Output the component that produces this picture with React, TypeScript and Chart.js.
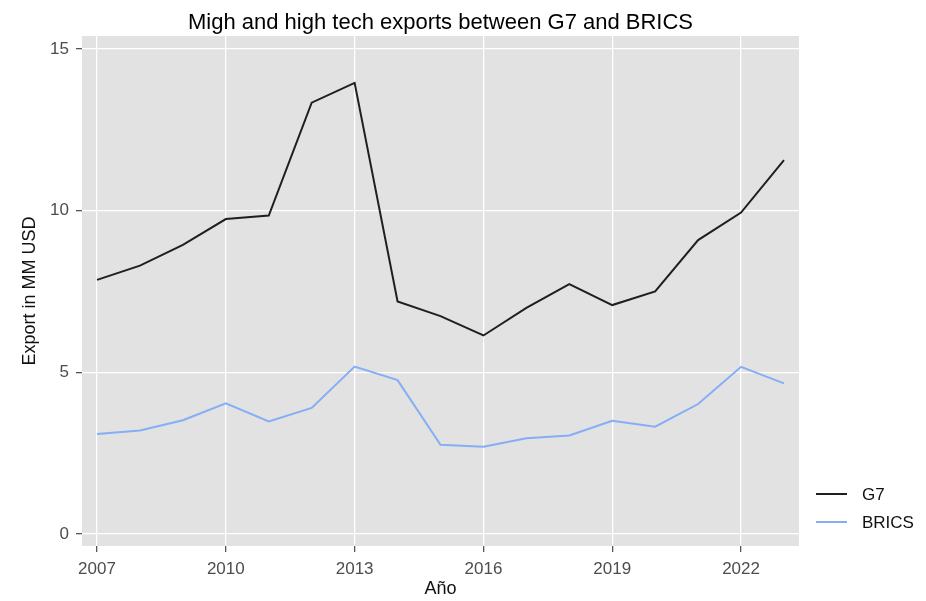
import React, { useEffect, useRef } from "react";
import { Chart, registerables } from "chart.js";

Chart.register(...registerables);

const years = [2007, 2008, 2009, 2010, 2011, 2012, 2013, 2014, 2015, 2016, 2017, 2018, 2019, 2020, 2021, 2022, 2023];
const g7Values = [7.86, 8.3, 8.94, 9.74, 9.85, 13.34, 13.95, 7.19, 6.74, 6.14, 6.99, 7.73, 7.08, 7.5, 9.09, 9.94, 11.56];
const bricsValues = [3.09, 3.2, 3.52, 4.04, 3.48, 3.9, 5.18, 4.76, 2.76, 2.7, 2.96, 3.05, 3.5, 3.32, 4.02, 5.17, 4.66];
const xTicks = [2007, 2010, 2013, 2016, 2019, 2022];
const yTicks = [0, 5, 10, 15];
const seriesLabels = ["G7", "BRICS"];
const titleText = "Migh and high tech exports between G7 and BRICS";
const xTitle = "Año";
const yTitle = "Export in MM USD";

const FONT = "'Liberation Sans', Arial, Helvetica, sans-serif";

export default function App() {
  const ref = useRef<HTMLCanvasElement | null>(null);
  useEffect(() => {
    if (!ref.current) return;
    const panelPlugin = {
      id: "panelBg",
      beforeDraw(chart: any) {
        const { ctx, chartArea } = chart;
        ctx.save();
        ctx.fillStyle = "#E2E2E2";
        ctx.fillRect(chartArea.left, chartArea.top, chartArea.right - chartArea.left, chartArea.bottom - chartArea.top);
        ctx.restore();
      },
      afterDraw(chart: any) {
        const { ctx, chartArea } = chart;
        ctx.save();
        ctx.fillStyle = "#000";
        ctx.font = `22px ${FONT}`;
        ctx.textAlign = "center";
        ctx.textBaseline = "alphabetic";
        ctx.fillText(titleText, (chartArea.left + chartArea.right) / 2, 28.5);
        // legend
        const legendY = [494, 522];
        chart.data.datasets.forEach((ds: any, i: number) => {
          ctx.strokeStyle = ds.borderColor;
          ctx.lineWidth = 2;
          ctx.beginPath();
          ctx.moveTo(816, legendY[i]);
          ctx.lineTo(847, legendY[i]);
          ctx.stroke();
          ctx.fillStyle = "#111";
          ctx.font = `17px ${FONT}`;
          ctx.textAlign = "left";
          ctx.textBaseline = "middle";
          ctx.fillText(ds.label, 862, legendY[i] + 1);
        });
        ctx.restore();
      },
    };
    const chart = new Chart(ref.current, {
      type: "line",
      data: {
        datasets: [
          {
            label: seriesLabels[0],
            data: years.map((y, i) => ({ x: y, y: g7Values[i] })),
            borderColor: "#1f1f1f",
            borderWidth: 2,
            pointRadius: 0,
            tension: 0,
            fill: false,
          },
          {
            label: seriesLabels[1],
            data: years.map((y, i) => ({ x: y, y: bricsValues[i] })),
            borderColor: "#84AEF6",
            borderWidth: 2,
            pointRadius: 0,
            tension: 0,
            fill: false,
          },
        ],
      },
      options: {
        animation: false,
        responsive: false,
        layout: { padding: { top: 36, right: 127, left: 0, bottom: 0 } },
        plugins: {
          legend: { display: false },
          title: { display: false },
          tooltip: { enabled: false },
        },
        scales: {
          x: {
            type: "linear",
            min: 2006.65,
            max: 2023.35,
            afterBuildTicks: (s: any) => {
              s.ticks = xTicks.map((v) => ({ value: v }));
            },
            afterFit: (s: any) => {
              s.height = 55;
            },
            ticks: {
              callback: (v: any) => String(v),
              color: "#4d4d4d",
              font: { family: FONT, size: 17 },
              padding: 7,
              maxRotation: 0,
              autoSkip: false,
            },
            grid: {
              color: "#ffffff",
              lineWidth: 1.3,
              tickColor: "#555",
              tickLength: 6,
              drawTicks: true,
            },
            border: { display: false },
            title: {
              display: true,
              text: xTitle,
              color: "#111",
              font: { family: FONT, size: 18 },
              padding: { top: 0, bottom: 1 },
            },
          },
          y: {
            type: "linear",
            min: -0.37,
            max: 15.4,
            afterBuildTicks: (s: any) => {
              s.ticks = yTicks.map((v) => ({ value: v }));
            },
            afterFit: (s: any) => {
              s.width = 82;
            },
            ticks: {
              color: "#4d4d4d",
              font: { family: FONT, size: 17 },
              padding: 7,
            },
            grid: {
              color: "#ffffff",
              lineWidth: 1.3,
              tickColor: "#555",
              tickLength: 6,
            },
            border: { display: false },
            title: {
              display: true,
              text: yTitle,
              color: "#111",
              font: { family: FONT, size: 18 },
              padding: { top: 19, bottom: 0 },
            },
          },
        },
      },
      plugins: [panelPlugin],
    });
    return () => chart.destroy();
  }, []);
  return (
    <div style={{ position: "absolute", left: 0, top: 0, width: 926, height: 601, background: "#fff" }}>
      <canvas ref={ref} width={926} height={601} style={{ display: "block" }} />
    </div>
  );
}
